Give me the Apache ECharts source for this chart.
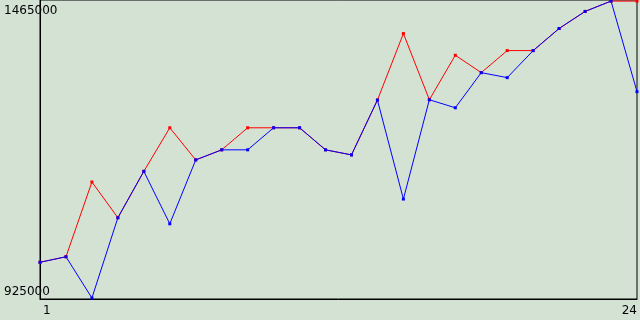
<!DOCTYPE html>
<html>
<head>
<meta charset="utf-8">
<script src="https://cdn.jsdelivr.net/npm/echarts@6/dist/echarts.min.js"></script>
<style>
html,body{margin:0;padding:0;background:#d4e2d4;}
#c{width:640px;height:320px;}
</style>
</head>
<body>
<div id="c"></div>
<script>
const xValues = [1,2,3,4,5,6,7,8,9,10,11,12,13,14,15,16,17,18,19,20,21,22,23,24];
const redValues = [990000,1000000,1136000,1071000,1155400,1234600,1176200,1194500,1234600,1234600,1234600,1194500,1185300,1285000,1406000,1285600,1366500,1334900,1375000,1375000,1415200,1446200,1465000,1465000];
const blueValues = [990000,1000000,925000,1071000,1155400,1060000,1176200,1194500,1194500,1234600,1234600,1194500,1185300,1285000,1105000,1285600,1271000,1334900,1325800,1375000,1415200,1446200,1465000,1300300];
const xTickLabels = [1, 24];
const yTickLabels = [925000, 1465000];

const chart = echarts.init(document.getElementById('c'), null, {renderer:'canvas'});
const font = {fontFamily:'DejaVu Sans', fontSize:12, color:'#000'};
chart.setOption({
  animation:false,
  backgroundColor:'#d4e2d4',
  grid:{left:40, right:0, top:0, bottom:21, show:true, borderColor:'#000', borderWidth:1, backgroundColor:'transparent'},
  xAxis:{
    type:'value', min:1, max:24,
    axisLine:{show:true, lineStyle:{color:'#000', width:1}},
    axisTick:{show:false},
    splitLine:{show:false},
    axisLabel:Object.assign({customValues:xTickLabels, margin:6, alignMinLabel:'left', alignMaxLabel:'right', padding:[0,0,0,3], formatter:v=>String(v)}, font)
  },
  yAxis:{
    type:'value', min:923200, max:1467000,
    axisLine:{show:true, lineStyle:{color:'#000', width:1}},
    axisTick:{show:false},
    splitLine:{show:false},
    axisLabel:Object.assign({customValues:yTickLabels, margin:36, align:'left', verticalAlignMinLabel:'bottom', verticalAlignMaxLabel:'top', padding:[4,0,0,0], formatter:v=>String(v)}, font)
  },
  series:[
    {type:'line', data:xValues.map((x,i)=>[x,redValues[i]]), symbol:'rect', symbolSize:3, showSymbol:true,
     lineStyle:{color:'#ff0000', width:1}, itemStyle:{color:'#ff0000'}},
    {type:'line', data:xValues.map((x,i)=>[x,blueValues[i]]), symbol:'rect', symbolSize:3, showSymbol:true,
     lineStyle:{color:'#0000ff', width:1}, itemStyle:{color:'#0000ff'}}
  ]
});
</script>
</body>
</html>
